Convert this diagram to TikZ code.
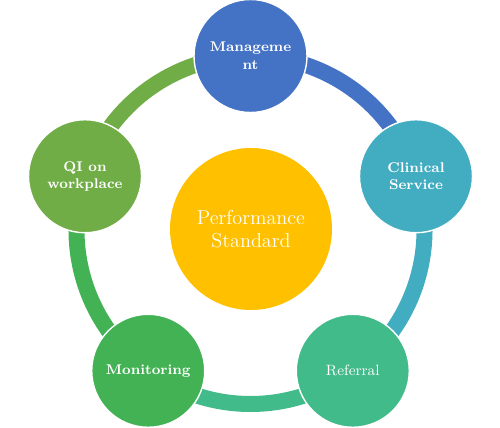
\documentclass[tikz,border=0pt]{standalone}
\usepackage{tikz}

\definecolor{mgmtblue}{HTML}{4472C4}
\definecolor{clinteal}{HTML}{42ADC0}
\definecolor{refgreen}{HTML}{42BB8A}
\definecolor{mongreen}{HTML}{42B254}
\definecolor{qigreen}{HTML}{71AD47}
\definecolor{stdgold}{HTML}{FFC000}

\begin{document}
\begin{tikzpicture}[every node/.style={align=center},
    petal/.style={circle, draw=white, line width=0.8pt, minimum size=2.26cm,
        inner sep=0pt, text=white, font=\fontsize{8}{10}\selectfont\bfseries},
    ring/.style={line width=0.32cm}]
    \useasboundingbox (0,0) rectangle (10,8.54);

    \begin{scope}[shift={(5.01,3.94)}]
        % ring segments, drawn first so the circles sit on top
        \coordinate (top) at (90:3.48);
        \coordinate (right) at (18:3.48);
        \coordinate (lowright) at (-54:3.48);
        \coordinate (lowleft) at (-126:3.48);
        \coordinate (left) at (162:3.48);
        \draw[ring, mgmtblue] (top) arc[start angle=90, end angle=18, radius=3.48];
        \draw[ring, clinteal] (right) arc[start angle=18, end angle=-54, radius=3.48];
        \draw[ring, refgreen] (lowright) arc[start angle=-54, end angle=-126, radius=3.48];
        \draw[ring, mongreen] (lowleft) arc[start angle=-126, end angle=-198, radius=3.48];
        \draw[ring, qigreen] (left) arc[start angle=162, end angle=90, radius=3.48];

        \node[circle, fill=stdgold, minimum size=3.24cm, text=white,
            font=\fontsize{11.5}{13.5}\selectfont] (std) at (0.01,0.02)
            {Performance\\Standard};

        \node[petal, fill=mgmtblue] (mgmt) at (top) {Manageme\\nt};
        \node[petal, fill=clinteal] (clin) at (right) {Clinical\\Service};
        \node[petal, fill=refgreen, font=\fontsize{8.5}{10}\selectfont] (ref) at (lowright) {Referral};
        \node[petal, fill=mongreen] (mon) at (lowleft) {Monitoring};
        \node[petal, fill=qigreen] (qi) at (left) {QI on\\workplace};
    \end{scope}
\end{tikzpicture}
\end{document}
